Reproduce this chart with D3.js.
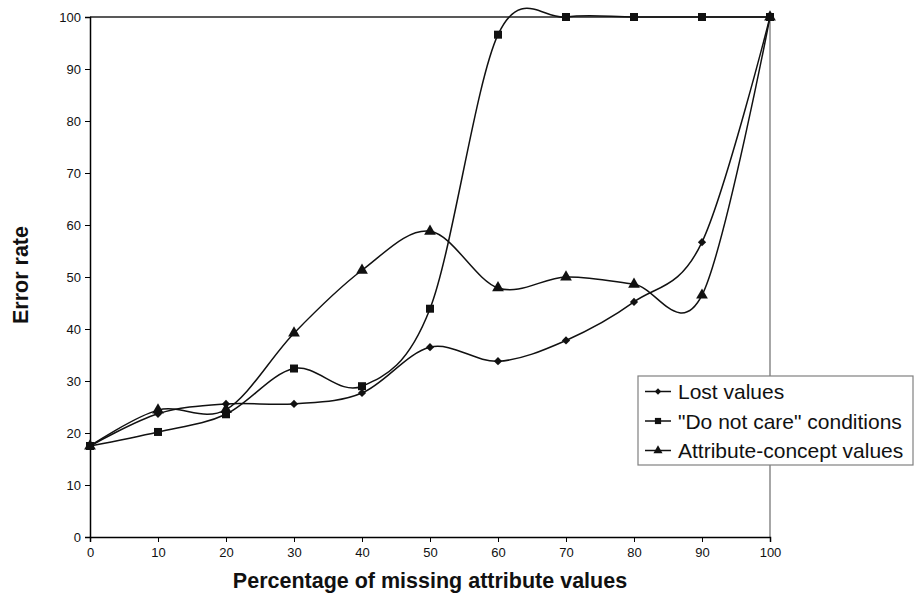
<!DOCTYPE html>
<html>
<head>
<meta charset="utf-8">
<script src="https://cdn.jsdelivr.net/npm/d3@7"></script>
<style>
  html, body { margin: 0; padding: 0; background: #fff; }
  svg { display: block; font-family: "Liberation Sans", Arial, sans-serif; }
</style>
</head>
<body>
<svg id="chart" width="914" height="596"></svg>
<script>
// Percentage of missing attribute values
const missing = [0, 10, 20, 30, 40, 50, 60, 70, 80, 90, 100];
// Error rates per approach
const lostValues = [17.5, 23.7, 25.6, 25.6, 27.7, 36.5, 33.8, 37.8, 45.2, 56.7, 100];
const doNotCare = [17.5, 20.2, 23.6, 32.4, 29.0, 43.9, 96.6, 100, 100, 100, 100];
const attrConcept = [17.5, 24.4, 24.5, 39.2, 51.3, 58.8, 47.9, 50.0, 48.6, 46.5, 100];
const seriesNames = ["Lost values", "\"Do not care\" conditions", "Attribute-concept values"];
const xTicks = [0, 10, 20, 30, 40, 50, 60, 70, 80, 90, 100];
const yTicks = [0, 10, 20, 30, 40, 50, 60, 70, 80, 90, 100];

const svg = d3.select("#chart");
const m = { left: 90, right: 770, top: 17, bottom: 537 };

const x = d3.scaleLinear().domain([0, 100]).range([m.left, m.right]);
const y = d3.scaleLinear().domain([0, 100]).range([m.bottom, m.top]);

// Plot frame (top and right edges)
svg.append("line").attr("x1", m.left).attr("x2", m.right).attr("y1", m.top).attr("y2", m.top)
  .attr("stroke", "#222").attr("stroke-width", 1.3);
svg.append("line").attr("x1", m.right).attr("x2", m.right).attr("y1", m.top).attr("y2", m.bottom)
  .attr("stroke", "#777").attr("stroke-width", 1.3);

// Axes
const yAxis = svg.append("g").attr("transform", `translate(${m.left},0)`)
  .call(d3.axisLeft(y).tickValues(yTicks).tickSize(5).tickPadding(4).tickFormat(d3.format("d")));
const xAxis = svg.append("g").attr("transform", `translate(0,${m.bottom})`)
  .call(d3.axisBottom(x).tickValues(xTicks).tickSize(5).tickPadding(6).tickFormat(d3.format("d")));
[yAxis, xAxis].forEach(g => {
  g.select(".domain").attr("stroke", "#000").attr("stroke-width", 1.5);
  g.selectAll(".tick line").attr("stroke", "#000").attr("stroke-width", 1);
  g.selectAll(".tick text").attr("font-size", 13).attr("fill", "#111")
    .attr("font-family", "'Liberation Sans', Arial, sans-serif");
});

// Axis titles
svg.append("text").attr("x", 430).attr("y", 588).attr("text-anchor", "middle")
  .attr("font-size", 21.5).attr("font-weight", "bold").attr("fill", "#111")
  .text("Percentage of missing attribute values");
svg.append("text").attr("transform", "translate(28,275) rotate(-90)").attr("text-anchor", "middle")
  .attr("font-size", 21.5).attr("font-weight", "bold").attr("fill", "#111")
  .text("Error rate");

// Series markers: rotated square (diamond), square, triangle
const symbols = [d3.symbolSquare, d3.symbolSquare, d3.symbolTriangle];
const symRotate = [45, 0, 0];
const symSizes = [34, 64, 60];
const series = [lostValues, doNotCare, attrConcept];

const line = d3.line()
  .x((d, i) => x(missing[i]))
  .y(d => y(d))
  .curve(d3.curveCardinal.tension(0));

series.forEach((vals, s) => {
  svg.append("path").datum(vals).attr("d", line)
    .attr("fill", "none").attr("stroke", "#111").attr("stroke-width", 1.5);
  svg.append("g").selectAll("path").data(vals).join("path")
    .attr("transform", (d, i) => `translate(${x(missing[i])},${y(d)}) rotate(${symRotate[s]})`)
    .attr("d", d3.symbol().type(symbols[s]).size(symSizes[s]))
    .attr("fill", "#111");
});

// Legend
const lg = svg.append("g");
lg.append("rect").attr("x", 638).attr("y", 376).attr("width", 275).attr("height", 89)
  .attr("fill", "#fff").attr("stroke", "#808080").attr("stroke-width", 1.2);
seriesNames.forEach((name, i) => {
  const cy = 391.5 + i * 29.5;
  lg.append("line").attr("x1", 645).attr("x2", 671).attr("y1", cy).attr("y2", cy)
    .attr("stroke", "#111").attr("stroke-width", 1.5);
  lg.append("path").attr("transform", `translate(658,${cy}) rotate(${symRotate[i]})`)
    .attr("d", d3.symbol().type(symbols[i]).size(symSizes[i] * 0.6)).attr("fill", "#111");
  lg.append("text").attr("x", 678).attr("y", cy).attr("dy", "0.36em")
    .attr("font-size", 21).attr("fill", "#111").text(name);
});
</script>
</body>
</html>
